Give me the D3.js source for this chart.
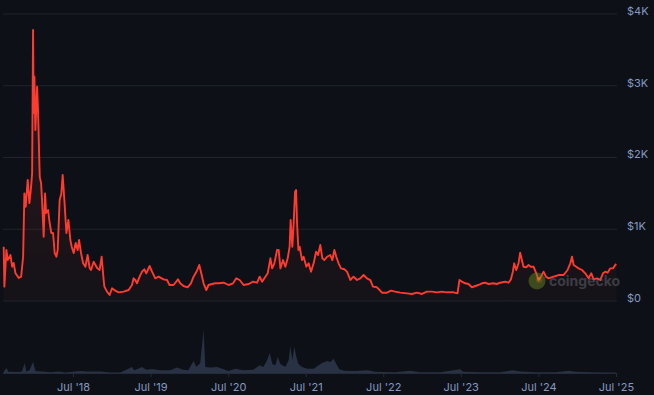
<!DOCTYPE html>
<html>
<head>
<meta charset="utf-8">
<script src="https://cdn.jsdelivr.net/npm/d3@7"></script>
<style>
  html, body { margin: 0; padding: 0; background: #0d1117; }
  svg { display: block; }
  text { font-family: Inter, Roboto, "Noto Sans", sans-serif; }
</style>
</head>
<body>
<div id="chart"></div>
<script>
// price data: [decimal year, USD]
var priceDates = [2017.601,2017.610,2017.636,2017.653,2017.688,2017.710,2017.730,2017.752,2017.795,2017.826,2017.852,2017.868,2017.885,2017.911,2017.933,2017.955,2017.968,2017.980,2017.988,2017.997,2018.010,2018.032,2018.045,2018.066,2018.084,2018.100,2018.117,2018.135,2018.148,2018.174,2018.194,2018.216,2018.238,2018.259,2018.281,2018.298,2018.323,2018.345,2018.362,2018.384,2018.410,2018.436,2018.461,2018.478,2018.504,2018.530,2018.555,2018.573,2018.599,2018.625,2018.655,2018.684,2018.710,2018.728,2018.762,2018.806,2018.839,2018.865,2018.891,2018.900,2018.934,2018.968,2018.999,2019.041,2019.084,2019.148,2019.213,2019.257,2019.277,2019.299,2019.321,2019.355,2019.386,2019.415,2019.441,2019.484,2019.515,2019.557,2019.600,2019.664,2019.708,2019.741,2019.793,2019.850,2019.879,2019.922,2019.974,2020.017,2020.051,2020.095,2020.124,2020.150,2020.180,2020.215,2020.244,2020.288,2020.331,2020.373,2020.438,2020.502,2020.559,2020.601,2020.644,2020.695,2020.760,2020.817,2020.868,2020.902,2020.933,2020.975,2021.005,2021.040,2021.062,2021.091,2021.126,2021.147,2021.169,2021.203,2021.233,2021.263,2021.288,2021.301,2021.323,2021.340,2021.358,2021.371,2021.384,2021.401,2021.417,2021.448,2021.469,2021.504,2021.533,2021.564,2021.598,2021.629,2021.655,2021.684,2021.710,2021.736,2021.771,2021.813,2021.839,2021.865,2021.890,2021.920,2021.951,2021.994,2022.028,2022.071,2022.113,2022.157,2022.200,2022.242,2022.286,2022.329,2022.364,2022.415,2022.449,2022.480,2022.544,2022.596,2022.651,2022.716,2022.802,2022.866,2022.931,2022.995,2023.060,2023.124,2023.189,2023.253,2023.318,2023.403,2023.454,2023.480,2023.511,2023.553,2023.596,2023.640,2023.682,2023.725,2023.769,2023.811,2023.854,2023.918,2023.962,2024.005,2024.069,2024.112,2024.143,2024.168,2024.185,2024.211,2024.241,2024.262,2024.284,2024.305,2024.340,2024.370,2024.400,2024.434,2024.469,2024.499,2024.529,2024.563,2024.594,2024.627,2024.692,2024.756,2024.821,2024.872,2024.907,2024.929,2024.950,2024.984,2025.014,2025.058,2025.100,2025.143,2025.178,2025.208,2025.251,2025.294,2025.329,2025.358,2025.388,2025.423,2025.458,2025.487,2025.500];
var priceValues = [757,200,710,570,640,478,530,390,320,340,617,1500,1314,1686,1365,1593,1780,3777,2620,3126,2383,2987,2620,1732,1640,1314,896,1500,1226,1268,1087,948,948,669,617,710,1408,1500,1756,1408,948,1129,850,757,669,808,710,850,669,530,478,641,460,432,548,460,432,617,293,200,130,84,177,144,121,130,153,223,316,293,247,339,409,442,386,488,409,316,339,302,293,223,223,302,247,209,191,247,339,422,502,386,247,153,223,237,247,247,255,223,247,316,293,223,237,269,255,339,269,339,386,595,455,525,711,711,455,571,478,595,757,1129,757,1083,1524,1547,1083,711,757,571,617,478,525,409,525,687,641,780,595,571,617,641,571,711,617,525,455,442,409,293,339,293,316,362,316,290,200,191,153,116,116,144,130,116,107,98,116,98,130,130,121,130,121,121,107,293,269,247,237,191,209,223,247,255,237,247,237,255,269,255,302,409,525,432,525,673,571,478,469,502,478,478,386,293,339,409,339,316,339,362,362,432,525,617,502,478,455,432,386,316,386,302,316,293,386,409,395,455,455,502,515];

// 24h volume, billions USD
var volumeDates = [2017.598,2017.636,2017.662,2017.817,2017.839,2017.872,2017.894,2017.933,2017.980,2018.010,2018.075,2018.113,2018.203,2018.307,2018.397,2018.590,2018.680,2018.848,2018.977,2019.106,2019.257,2019.286,2019.386,2019.441,2019.515,2019.622,2019.750,2019.837,2019.918,2019.983,2020.051,2020.086,2020.137,2020.180,2020.202,2020.266,2020.353,2020.421,2020.498,2020.588,2020.692,2020.820,2020.902,2020.949,2020.997,2021.031,2021.065,2021.104,2021.134,2021.169,2021.233,2021.276,2021.297,2021.323,2021.349,2021.375,2021.401,2021.448,2021.517,2021.598,2021.662,2021.706,2021.771,2021.813,2021.856,2021.899,2021.929,2021.994,2022.135,2022.294,2022.393,2022.496,2022.651,2022.844,2022.973,2023.231,2023.489,2023.528,2023.747,2024.005,2024.163,2024.262,2024.456,2024.714,2024.894,2024.972,2025.165,2025.358,2025.500];
var volumeValues = [0.3,1.85,0.5,0.4,0.74,3.7,0.55,1.0,4.07,0.74,0.55,0.6,0.25,0.6,0.2,0.74,0.6,0.6,0.2,0.2,2.2,1.0,2.2,1.2,1.5,1.0,1.0,2.0,1.2,1.0,4.4,2.2,3.7,15.9,2.2,2.0,2.2,1.6,0.74,1.6,1.0,1.2,2.85,2.2,4.7,7.4,3.3,2.85,5.9,3.3,2.2,4.8,9.9,4.8,9.6,5.9,3.3,2.2,1.6,1.6,2.85,3.7,4.4,4.1,5.3,2.85,1.4,0.85,0.74,1.0,0.5,0.37,0.26,0.85,0.26,0.26,1.4,0.5,0.26,0.26,1.0,0.6,0.26,0.26,0.85,0.5,0.26,0.2,0.2];

var priceTicks = [0, 1000, 2000, 3000, 4000];
var priceTickLabels = ["$0", "$1K", "$2K", "$3K", "$4K"];
var dateTicks = [2018, 2019, 2020, 2021, 2022, 2023, 2024, 2025];

function toDate(t) {
  var y = Math.floor(t);
  var start = Date.UTC(y, 0, 1), end = Date.UTC(y + 1, 0, 1);
  return new Date(start + (t - y) * (end - start));
}

var price = priceDates.map(function (t, i) { return { date: toDate(t), value: priceValues[i] }; });
var volume = volumeDates.map(function (t, i) { return { date: toDate(t), value: volumeValues[i] }; });

var width = 654, height = 395;
var plotRight = 617;

var svg = d3.select("#chart").append("svg")
  .attr("width", width)
  .attr("height", height);

svg.append("rect").attr("width", width).attr("height", height).attr("fill", "#0d1117");

var x = d3.scaleUtc()
  .domain([new Date(Date.UTC(2017, 6, 22)), new Date(Date.UTC(2025, 6, 6))])
  .range([0, plotRight]);

var y = d3.scaleLinear().domain([0, 4000]).range([301, 14]);
var yVol = d3.scaleLinear().domain([0, 20]).range([373, 319]);

// gradient for area under price
var defs = svg.append("defs");
var grad = defs.append("linearGradient")
  .attr("id", "priceFill")
  .attr("gradientUnits", "userSpaceOnUse")
  .attr("x1", 0).attr("y1", y(4000)).attr("x2", 0).attr("y2", y(0));
grad.append("stop").attr("offset", "0%").attr("stop-color", "#ff3b30").attr("stop-opacity", 0.16);
grad.append("stop").attr("offset", "100%").attr("stop-color", "#ff3b30").attr("stop-opacity", 0.03);

// grid
svg.append("g")
  .selectAll("line")
  .data(priceTicks)
  .enter().append("line")
  .attr("x1", 3).attr("x2", plotRight)
  .attr("y1", function (d) { return y(d); })
  .attr("y2", function (d) { return y(d); })
  .attr("stroke", "#1e242d")
  .attr("stroke-width", 1);

// y labels on right
svg.append("g")
  .selectAll("text")
  .data(priceTicks)
  .enter().append("text")
  .attr("x", 627)
  .attr("y", function (d) { return y(d) - 3; })
  .attr("dy", "0.35em")
  .attr("fill", "#8599c0")
  .style("font-size", "11px")
  .text(function (d, i) { return priceTickLabels[i]; });

// volume
svg.append("path")
  .datum(volume)
  .attr("fill", "#283244")
  .attr("d", d3.area()
    .x(function (d) { return x(d.date); })
    .y0(yVol(0))
    .y1(function (d) { return yVol(d.value); }));

// price area + line
svg.append("path")
  .datum(price)
  .attr("fill", "url(#priceFill)")
  .attr("d", d3.area()
    .x(function (d) { return x(d.date); })
    .y0(y(0))
    .y1(function (d) { return y(d.value); }));

svg.append("path")
  .datum(price)
  .attr("fill", "none")
  .attr("stroke", "#ff3b30")
  .attr("stroke-width", 1.9)
  .attr("stroke-linejoin", "round")
  .attr("d", d3.line()
    .x(function (d) { return x(d.date); })
    .y(function (d) { return y(d.value); }));

// x axis
var xAxis = svg.append("g")
  .attr("transform", "translate(0," + yVol(0) + ")")
  .call(d3.axisBottom(x)
    .tickValues(dateTicks.map(function (yr) { return new Date(Date.UTC(yr, 6, 1)); }))
    .tickSize(4)
    .tickPadding(6)
    .tickFormat(function (d) { return "Jul '" + String(d.getUTCFullYear()).slice(2); }));
xAxis.select(".domain").attr("stroke", "#252c38").attr("d", "M3,0.5H" + plotRight);
xAxis.selectAll(".tick line").attr("stroke", "#252c38");
xAxis.selectAll(".tick text")
  .attr("fill", "#8599c0")
  .style("font-size", "11px")
  .style("font-family", "Inter, Roboto, sans-serif");

// watermark
var wm = svg.append("g").attr("opacity", 0.45);
wm.append("circle").attr("cx", 537).attr("cy", 281).attr("r", 8.5).attr("fill", "#6b8e23");
wm.append("circle").attr("cx", 539).attr("cy", 280).attr("r", 3).attr("fill", "#c9a227");
wm.append("text")
  .attr("x", 549).attr("y", 286)
  .attr("fill", "#6a707a")
  .style("font-size", "14px")
  .style("font-weight", "bold")
  .text("coingecko");
</script>
</body>
</html>
